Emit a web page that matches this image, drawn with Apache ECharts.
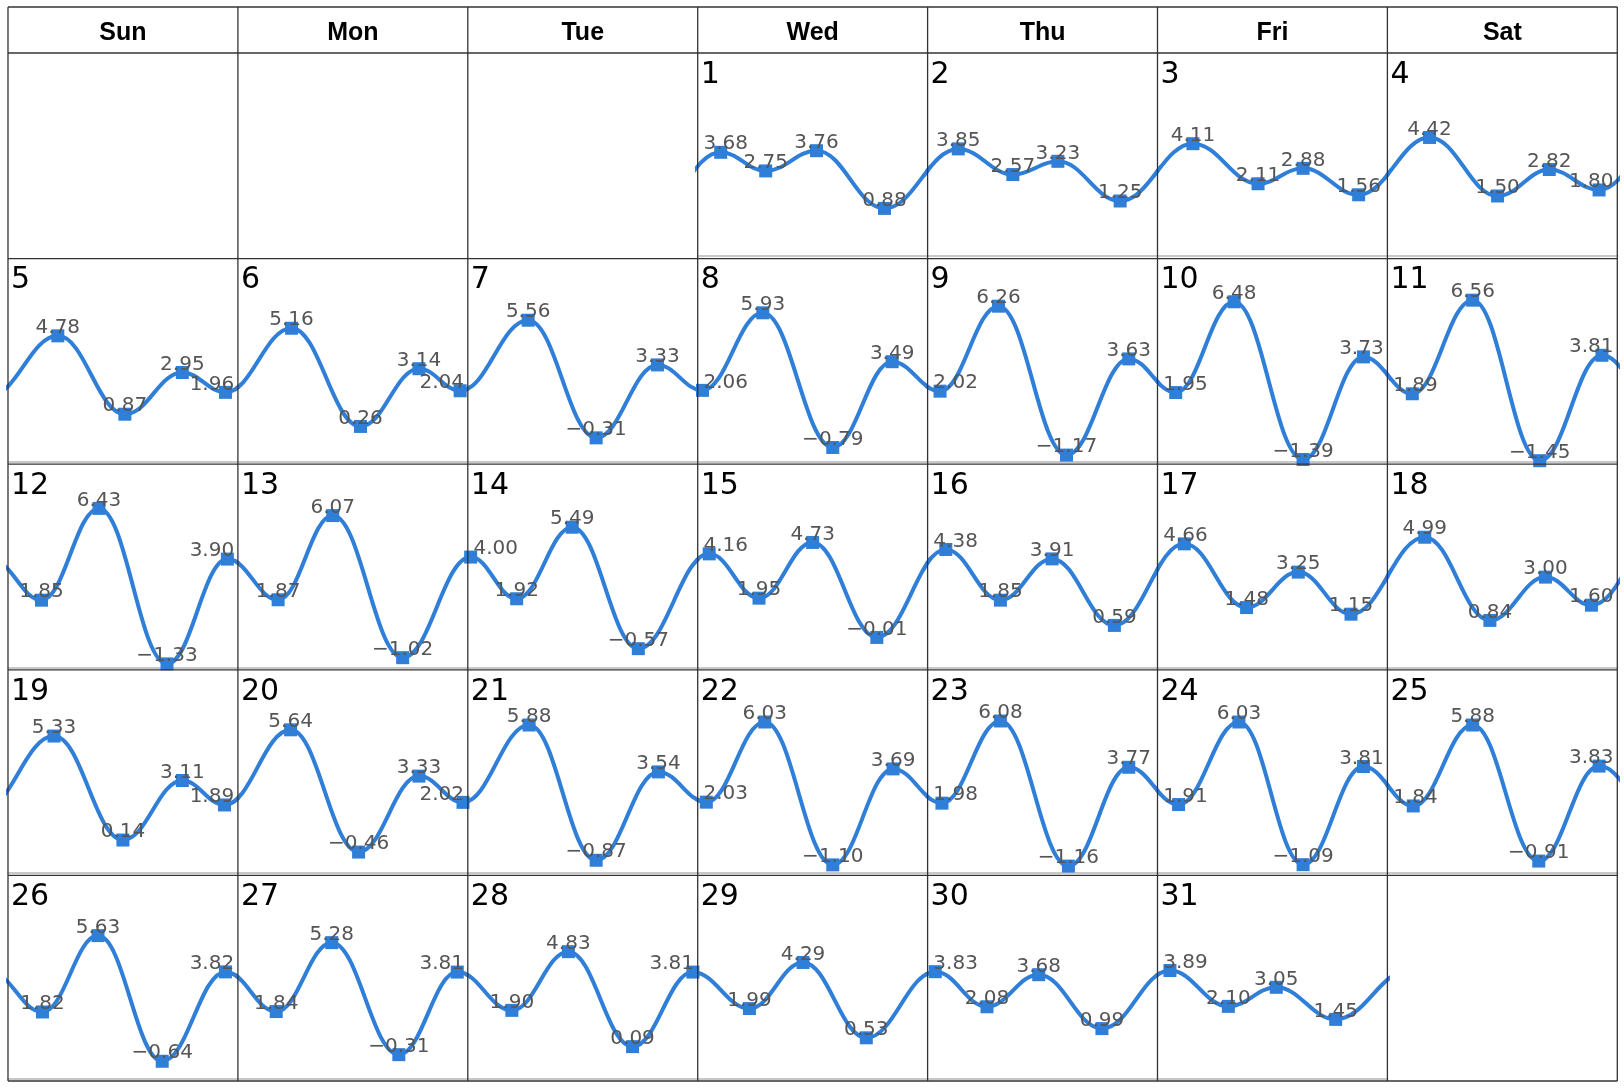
<!DOCTYPE html>
<html><head><meta charset="utf-8">
<script src="https://cdn.jsdelivr.net/npm/echarts@6/dist/echarts.min.js"></script>
<style>html,body{margin:0;padding:0;background:#fff}#chart{width:1624px;height:1088px}</style>
</head><body><div id="chart"></div>
<script>
// ---- data ----
const weekdayNames = ['Sun', 'Mon', 'Tue', 'Wed', 'Thu', 'Fri', 'Sat'];
const firstWeekday = 3; // the 1st falls on a Wednesday
const dayNumbers = [1,2,3,4,5,6,7,8,9,10,11,12,13,14,15,16,17,18,19,20,21,22,23,24,25,26,27,28,29,30,31];
// hour of day of each high / low tide
const tideTimes = [
  [2.4, 7.1, 12.4, 19.5], [3.2, 8.9, 13.6, 20.1], [3.7, 10.5, 15.2, 21.0], [4.4, 11.5, 16.9, 22.1],
  [5.2, 12.2, 18.2, 22.7], [5.6, 12.8, 18.9, 23.2], [6.3, 13.4, 19.8], [0.5, 6.8, 14.1, 20.3],
  [1.3, 7.4, 14.5, 21.0], [1.9, 8.0, 15.2, 21.5], [2.6, 8.9, 15.9, 22.4], [3.5, 9.5, 16.6, 22.9],
  [4.2, 9.9, 17.2], [0.3, 5.1, 10.9, 17.8], [1.2, 6.4, 12.0, 18.7], [1.9, 7.6, 13.0, 19.5],
  [2.8, 9.3, 14.7, 20.2], [3.9, 10.7, 16.5, 21.3], [4.8, 12.0, 18.2, 22.6], [5.5, 12.6, 18.9, 23.5],
  [6.4, 13.4, 19.9], [0.9, 7.0, 14.1, 20.4], [1.5, 7.6, 14.7, 21.0], [2.2, 8.5, 15.2, 21.5],
  [2.7, 8.9, 15.8, 22.1], [3.6, 9.4, 16.1, 22.7], [4.0, 9.8, 16.8, 22.9], [4.6, 10.5, 17.2, 23.5],
  [5.4, 11.0, 17.6], [0.8, 6.2, 11.6, 18.2], [1.3, 7.4, 12.4, 18.6]
];
// tide heights
const tideHeights = [
  [3.68, 2.75, 3.76, 0.88], [3.85, 2.57, 3.23, 1.25], [4.11, 2.11, 2.88, 1.56], [4.42, 1.50, 2.82, 1.80],
  [4.78, 0.87, 2.95, 1.96], [5.16, 0.26, 3.14, 2.04], [5.56, -0.31, 3.33], [2.06, 5.93, -0.79, 3.49],
  [2.02, 6.26, -1.17, 3.63], [1.95, 6.48, -1.39, 3.73], [1.89, 6.56, -1.45, 3.81], [1.85, 6.43, -1.33, 3.90],
  [1.87, 6.07, -1.02], [4.00, 1.92, 5.49, -0.57], [4.16, 1.95, 4.73, -0.01], [4.38, 1.85, 3.91, 0.59],
  [4.66, 1.48, 3.25, 1.15], [4.99, 0.84, 3.00, 1.60], [5.33, 0.14, 3.11, 1.89], [5.64, -0.46, 3.33, 2.02],
  [5.88, -0.87, 3.54], [2.03, 6.03, -1.10, 3.69], [1.98, 6.08, -1.16, 3.77], [1.91, 6.03, -1.09, 3.81],
  [1.84, 5.88, -0.91, 3.83], [1.82, 5.63, -0.64, 3.82], [1.84, 5.28, -0.31, 3.81], [1.90, 4.83, 0.09, 3.81],
  [1.99, 4.29, 0.53], [3.83, 2.08, 3.68, 0.99], [3.89, 2.10, 3.05, 1.45]
];
// tides just before the 1st and just after the 31st (hours relative to those days)
const prevEdgeTimes = [-11.0, -5.0];
const prevEdgeHeights = [3.5, 0.6];
const nextEdgeTimes = [26.3, 32.0];
const nextEdgeHeights = [3.9, 2.2];

// ---- layout ----
const L = 8, T = 7, HEAD = 46, colW = 229.9, rowH = 205.6;
const Y_MIN = -1.5, Y_MAX = 8.5;
const BLUE = '#2f7ed8';
const rows = 5;

function fmt(v) { return v.toFixed(2).replace('-', '\u2212'); }

const grids = [], xAxes = [], yAxes = [], series = [], graphics = [];

// borders
const bottom = T + HEAD + rows * rowH;
for (let k = 0; k <= 7; k++) {
  const x = L + k * colW;
  graphics.push({ type: 'line', shape: { x1: x, y1: T, x2: x, y2: bottom }, style: { stroke: '#333', lineWidth: 1.3 }, z: 10 });
}
const hy = [T, T + HEAD];
for (let r = 1; r <= rows; r++) hy.push(T + HEAD + r * rowH);
hy.forEach(y => graphics.push({ type: 'line', shape: { x1: L, y1: y, x2: L + 7 * colW, y2: y }, style: { stroke: '#333', lineWidth: 1.3 }, z: 10 }));

// header
weekdayNames.forEach((n, k) => {
  graphics.push({ type: 'text', x: L + k * colW + colW / 2, y: T + HEAD / 2 + 3,
    style: { text: n, fill: '#000', font: 'bold 25px "Liberation Sans", Arial, sans-serif', align: 'center', verticalAlign: 'middle' }, z: 10 });
});

function prevPoints(i) {
  if (i === 0) return prevEdgeTimes.map((t, k) => [t, prevEdgeHeights[k]]);
  const tt = tideTimes[i - 1], hh = tideHeights[i - 1], n = tt.length;
  return [[tt[n - 2] - 24, hh[n - 2]], [tt[n - 1] - 24, hh[n - 1]]];
}
function nextPoints(i) {
  if (i === dayNumbers.length - 1) return nextEdgeTimes.map((t, k) => [t, nextEdgeHeights[k]]);
  const tt = tideTimes[i + 1], hh = tideHeights[i + 1];
  return [[tt[0] + 24, hh[0]], [tt[1] + 24, hh[1]]];
}

dayNumbers.forEach((d, i) => {
  const slot = firstWeekday + i;
  const col = slot % 7, row = Math.floor(slot / 7);
  const cx = L + col * colW, cy = T + HEAD + row * rowH;
  graphics.push({ type: 'text', x: cx + 3, y: cy + 7,
    style: { text: String(d), fill: '#000', font: '30px "DejaVu Sans", sans-serif', align: 'left', verticalAlign: 'top' }, z: 10 });

  grids.push({ left: cx, top: cy + 2.7, width: colW, height: (rowH - 5.2), containLabel: false });
  xAxes.push({ type: 'value', gridIndex: i, min: 0, max: 24, show: true,
    axisLine: { show: true, onZero: false, lineStyle: { color: '#c8c8c8', width: 2 } },
    axisTick: { show: false }, axisLabel: { show: false }, splitLine: { show: false } });
  yAxes.push({ type: 'value', gridIndex: i, min: Y_MIN, max: Y_MAX, show: false, splitLine: { show: false } });

  const data = [];
  prevPoints(i).forEach(p => data.push({ value: p, symbol: 'none', label: { show: false } }));
  tideTimes[i].forEach((t, j) => {
    const px = t / 24 * colW;
    const half = 23;
    let dx = 0;
    if (px - half < 5) dx = 5 - (px - half);
    if (px + half > colW - 3) dx = (colW - 3) - (px + half);
    data.push({ value: [t, tideHeights[i][j]], label: { offset: [dx, -8] } });
  });
  nextPoints(i).forEach(p => data.push({ value: p, symbol: 'none', label: { show: false } }));

  series.push({
    type: 'line', xAxisIndex: i, yAxisIndex: i, data,
    smooth: 0.4, smoothMonotone: 'x', clip: true,
    symbol: 'rect', symbolSize: 13,
    lineStyle: { color: BLUE, width: 4 },
    itemStyle: { color: BLUE },
    label: { show: true, position: 'inside', color: '#555', fontSize: 20, fontFamily: 'DejaVu Sans',
      formatter: p => fmt(p.value[1]) },
    emphasis: { disabled: true },
    silent: true
  });
});

const chart = echarts.init(document.getElementById('chart'), null, { renderer: 'canvas' });
chart.setOption({
  backgroundColor: '#fff',
  animation: false,
  grid: grids, xAxis: xAxes, yAxis: yAxes, series,
  graphic: graphics
});
</script></body></html>
